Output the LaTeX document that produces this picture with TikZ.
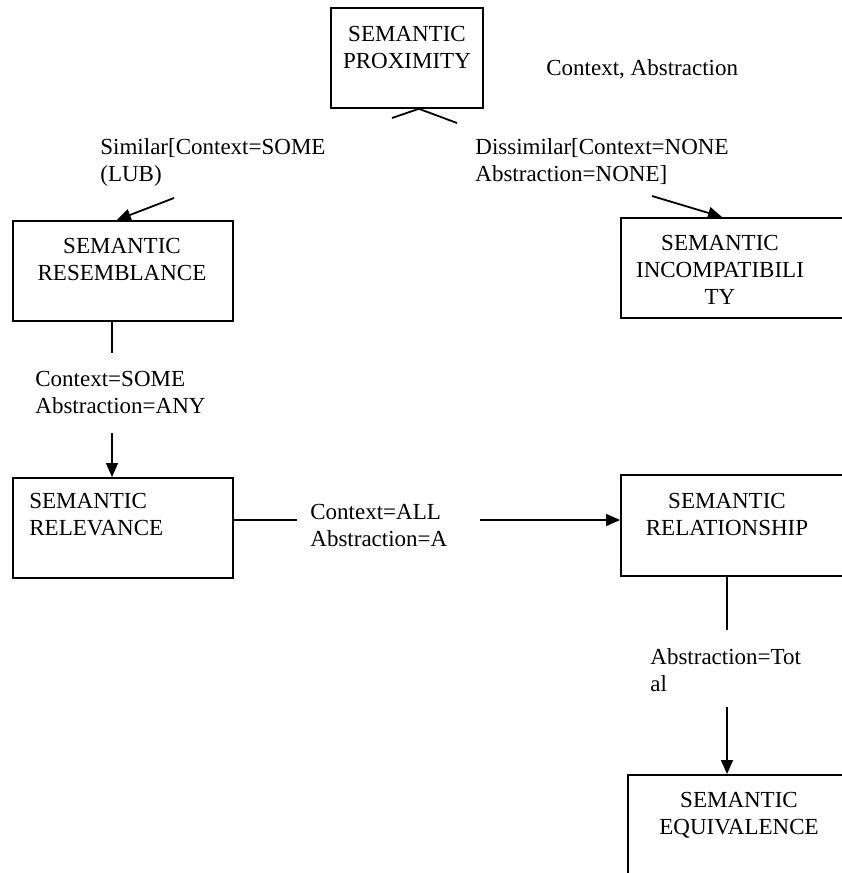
\documentclass[tikz,border=0pt]{standalone}
\usepackage{fontspec}
\setmainfont{Liberation Serif}
\usetikzlibrary{arrows.meta}
\begin{document}
\begin{tikzpicture}[x=0.5pt, y=-0.5pt,
	semline/.style={line width=0.9pt},
	semarrow/.style={line width=0.9pt, -{Triangle[length=7pt,width=6pt]}},
	sembox/.style={draw, line width=0.9pt, anchor=north west, inner sep=0pt},
	semtext/.style={align=center, inner sep=0pt, anchor=north, font=\fontsize{11.5}{13.5}\selectfont},
	semlabel/.style={align=left, inner sep=0pt, anchor=north west, font=\fontsize{11.5}{13.5}\selectfont}]
	\useasboundingbox (0,0) rectangle (841,873);
	% boxes
	\node [sembox, minimum width=76pt, minimum height=50pt] (prox) at (330,7) {};
	\node [sembox, minimum width=110pt, minimum height=50pt] (res) at (12,220) {};
	\node [sembox, minimum width=150pt, minimum height=50pt] (inc) at (620,217) {};
	\node [sembox, minimum width=110pt, minimum height=50pt] (rel) at (12,477) {};
	\node [sembox, minimum width=150pt, minimum height=50.5pt] (ship) at (620,474) {};
	\node [sembox, minimum width=150pt, minimum height=60pt] (equ) at (627,774) {};
	% box texts
	\node [semtext] (proxT) at (407,26) {SEMANTIC\\PROXIMITY};
	\node [semtext] (resT) at (122,238) {SEMANTIC\\RESEMBLANCE};
	\node [semtext] (incT) at (720,235) {SEMANTIC\\INCOMPATIBILI\\TY};
	\node [semlabel] (relT) at (29,493) {SEMANTIC\\RELEVANCE};
	\node [semtext] (shipT) at (727,493) {SEMANTIC\\RELATIONSHIP};
	\node [semtext] (equT) at (739,792) {SEMANTIC\\EQUIVALENCE};
	% labels
	\node [semlabel] (ctx) at (546,59) {Context, Abstraction};
	\node [semlabel] (simL) at (100,138) {Similar[Context=SOME\\(LUB)};
	\node [semlabel] (disL) at (475,138) {Dissimilar[Context=NONE\\Abstraction=NONE]};
	\node [semlabel] (someL) at (35,371) {Context=SOME\\Abstraction=ANY};
	\node [semlabel] (allL) at (310,504) {Context=ALL\\Abstraction=A};
	\node [semlabel] (totL) at (650,648) {Abstraction=Tot\\al};
	% connectors
	\coordinate (proxL) at (392,118);
	\coordinate (proxR) at (457,123);
	\draw [semline] (proxL) -- ([xshift=6pt]prox.south) -- (proxR);
	\coordinate (simIn) at (174,198);
	\draw [semarrow] (simIn) -- ([xshift=-3pt]res.north);
	\coordinate (disIn) at (652,196);
	\draw [semarrow] (disIn) -- ([xshift=51pt]inc.north west);
	\coordinate (resOut) at (112,353);
	\draw [semline] (resOut |- res.south) -- (resOut);
	\coordinate (relIn) at (112,433);
	\draw [semarrow] (relIn) -- (relIn |- rel.north);
	\coordinate (relOut) at (297,520);
	\draw [semline] (relOut -| rel.east) -- (relOut);
	\coordinate (shipIn) at (480,520);
	\draw [semarrow] (shipIn) -- (shipIn -| ship.west);
	\coordinate (shipOut) at (727,630);
	\draw [semline] (shipOut |- ship.south) -- (shipOut);
	\coordinate (equIn) at (727,707);
	\draw [semarrow] (equIn) -- (equIn |- equ.north);
\end{tikzpicture}
\end{document}
